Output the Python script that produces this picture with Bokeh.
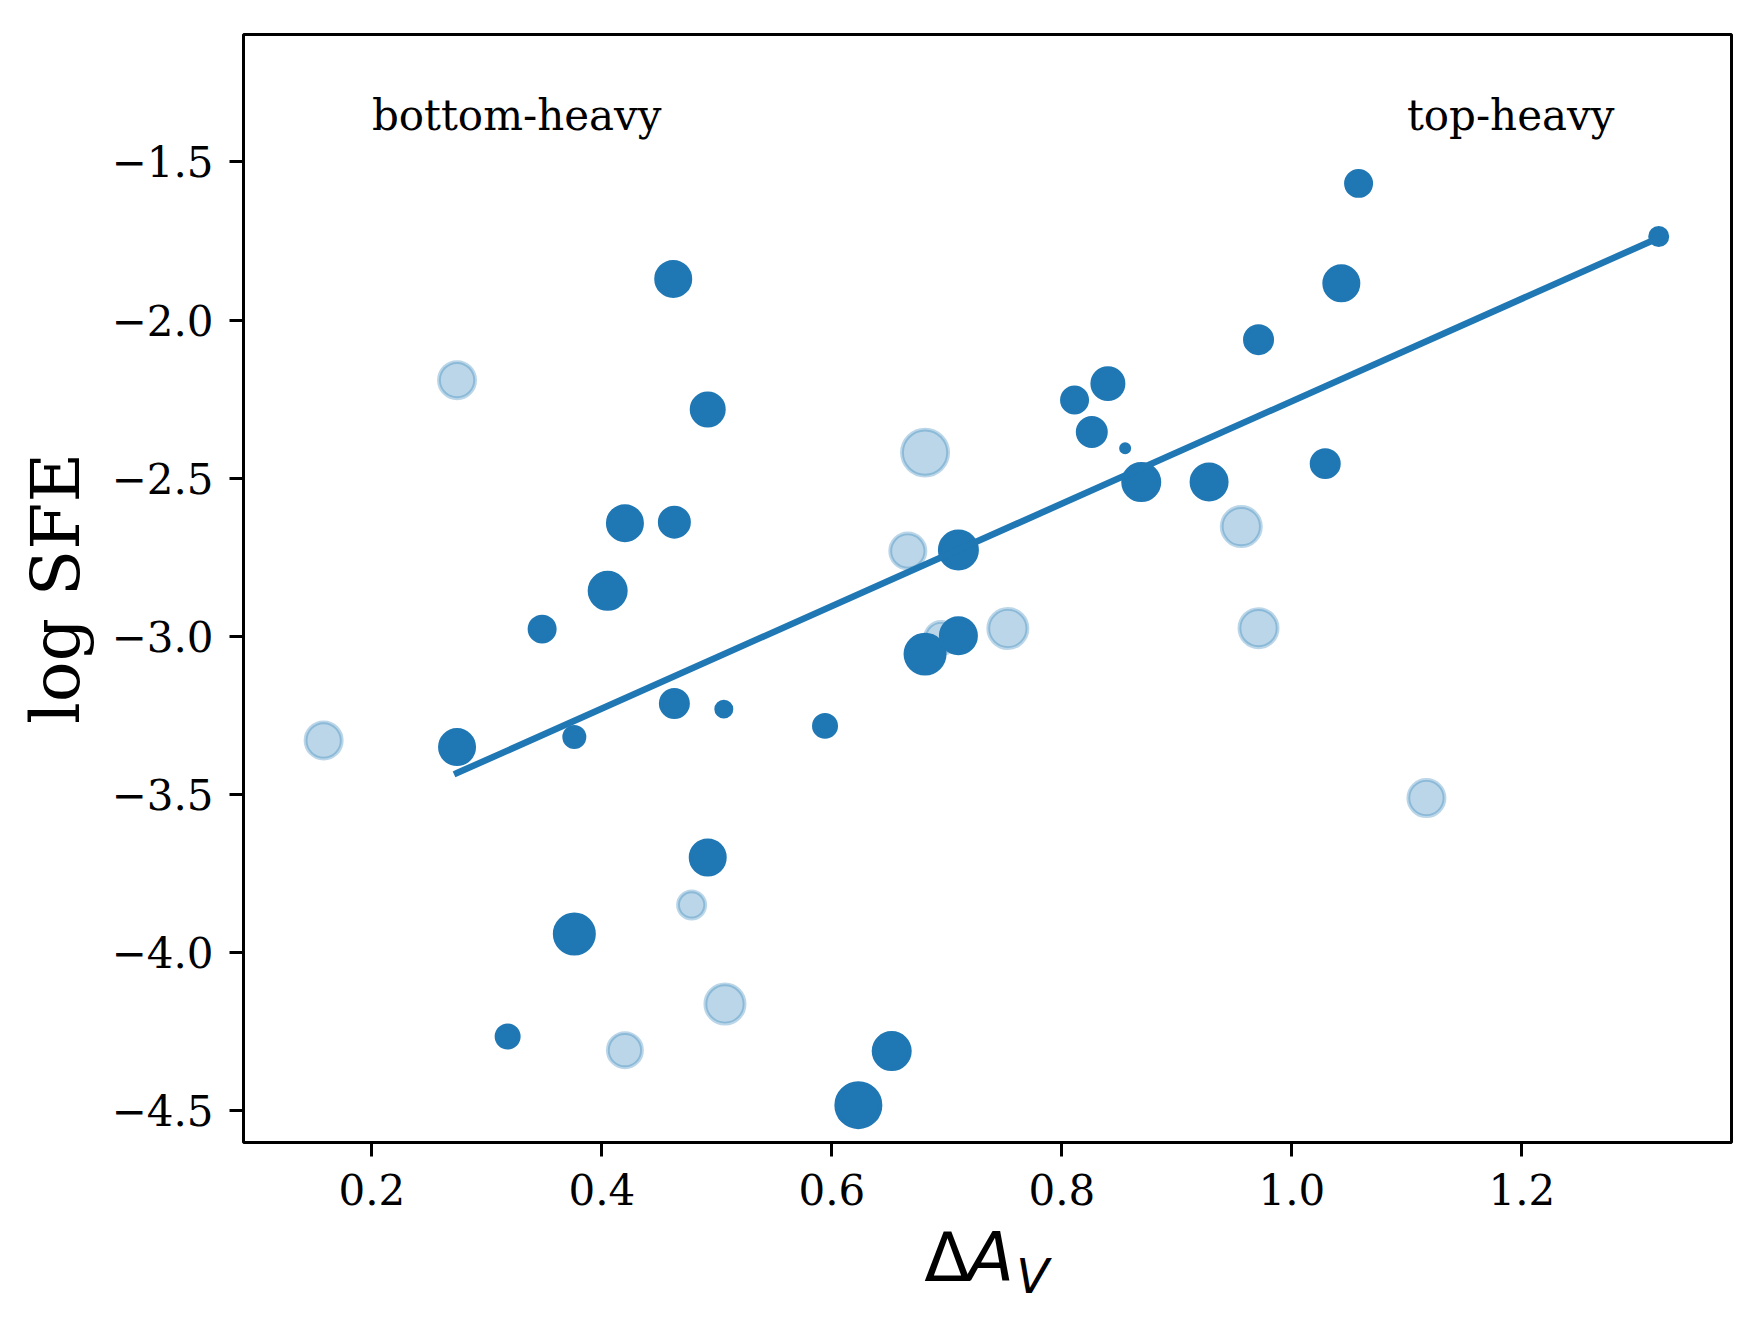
from bokeh.plotting import figure
from bokeh.layouts import column
from bokeh.models import Range1d, FixedTicker, CustomJSTickFormatter, ColumnDataSource
from bokeh.core.properties import value
from bokeh.embed import file_html
from bokeh.resources import INLINE

# ---- data ----
dark_x = [0.462, 0.492, 0.420, 0.463, 0.405, 0.348, 0.463, 0.506, 0.376, 0.274,
          0.594, 0.492, 0.376, 0.318, 0.652, 0.623, 0.681, 0.710, 0.710, 0.811,
          0.840, 0.826, 0.855, 0.869, 0.928, 1.029, 0.971, 1.043, 1.058, 1.319]
dark_y = [-1.870, -2.283, -2.642, -2.639, -2.856, -2.977, -3.212, -3.230, -3.318, -3.350,
          -3.283, -3.699, -3.941, -4.265, -4.311, -4.482, -3.056, -2.998, -2.727, -2.253,
          -2.201, -2.354, -2.405, -2.512, -2.512, -2.454, -2.062, -1.884, -1.568, -1.736]
dark_diam = [38, 36, 38, 33, 40, 29, 31, 19, 24, 38,
             26, 38, 43, 26, 40, 48, 43, 39, 41, 29,
             35, 32, 12, 40, 39, 31, 31, 38, 29, 21]

light_x = [0.274, 0.158, 0.681, 0.666, 0.695, 0.753, 0.956, 0.971, 1.117, 0.478, 0.507, 0.420]
light_y = [-2.190, -3.329, -2.419, -2.730, -3.005, -2.975, -2.653, -2.974, -3.511, -3.849, -4.162, -4.308]
light_diam = [40, 40, 50, 39, 36, 43, 43, 42, 40, 31, 43, 38]

fit_x = [0.274, 1.319]
fit_y = [-3.432, -1.740]

x_ticks = [0.2, 0.4, 0.6, 0.8, 1.0, 1.2]
y_ticks = [-4.5, -4.0, -3.5, -3.0, -2.5, -2.0, -1.5]

ann_x = [0.2, 1.1]
ann_y = [-1.4, -1.4]
ann_text = ["bottom-heavy", "top-heavy"]

y_label = "log SFE"
x_label_parts = ["Δ", "A", "V"]   # rendered as  ΔA_V

# ---- styling ----
BLUE = "#1f77b4"
EDGE = 3.8
SERIF = "DejaVu Serif"
SANS = "DejaVu Sans"

W = 1748
H1 = 1215
H2 = 105
BL, BR = 243, 17

xr = Range1d(0.0883, 1.3823)
p = figure(width=W, height=H1,
           x_range=xr, y_range=Range1d(-4.6, -1.0973),
           output_backend="svg", toolbar_location=None,
           min_border_left=BL, min_border_right=BR,
           min_border_top=34, min_border_bottom=H1 - 34 - 1108)

p.background_fill_color = "white"
p.border_fill_color = "white"
p.grid.visible = False
p.outline_line_color = "black"
p.outline_line_width = 3
p.outline_line_alpha = 1.0

for ax in (p.xaxis[0], p.yaxis[0]):
    ax.axis_line_color = None
    ax.major_tick_out = 14
    ax.major_tick_in = 0
    ax.major_tick_line_width = 3
    ax.major_tick_line_color = "black"
    ax.minor_tick_line_color = None
    ax.major_label_text_font = SERIF
    ax.major_label_text_font_size = "42px"
    ax.major_label_text_color = "black"

p.xaxis.ticker = FixedTicker(ticks=x_ticks)
p.yaxis.ticker = FixedTicker(ticks=y_ticks)
p.xaxis.formatter = CustomJSTickFormatter(code="return tick.toFixed(1).replace('-', '\\u2212');")
p.yaxis.formatter = CustomJSTickFormatter(code="return tick.toFixed(1).replace('-', '\\u2212');")
p.xaxis.major_label_standoff = 17
p.yaxis.major_label_standoff = 16

p.yaxis.axis_label = y_label
p.yaxis.axis_label_text_font = SERIF
p.yaxis.axis_label_text_font_size = "68px"
p.yaxis.axis_label_text_font_style = "normal"
p.yaxis.axis_label_text_color = "black"
p.yaxis.axis_label_standoff = 14

# scatter: light points first, dark on top
light_src = ColumnDataSource(dict(x=light_x, y=light_y, s=[d - EDGE for d in light_diam]))
p.scatter("x", "y", size="s", source=light_src, marker="circle",
          fill_color=BLUE, fill_alpha=0.3, line_color=BLUE, line_alpha=0.3, line_width=EDGE)

dark_src = ColumnDataSource(dict(x=dark_x, y=dark_y, s=[d - EDGE for d in dark_diam]))
p.scatter("x", "y", size="s", source=dark_src, marker="circle",
          fill_color=BLUE, fill_alpha=1.0, line_color=BLUE, line_alpha=1.0, line_width=EDGE)

p.line(fit_x, fit_y, line_color=BLUE, line_width=6.5, line_cap="square")

ann_src = ColumnDataSource(dict(x=ann_x, y=ann_y, t=ann_text))
p.text("x", "y", text="t", source=ann_src, text_font=value(SERIF), text_font_size="42px",
       text_color="black", text_align="left", text_baseline="alphabetic", y_offset=-15)

# ---- x-axis label strip  (ΔA_V, mathtext style) ----
p2 = figure(width=W, height=H2, x_range=xr, y_range=Range1d(0, H2),
            output_backend="svg", toolbar_location=None,
            min_border_left=BL, min_border_right=BR, min_border_top=0, min_border_bottom=0,
            x_axis_location=None, y_axis_location=None)
p2.outline_line_color = None
p2.grid.visible = False
p2.background_fill_color = "white"
p2.border_fill_color = "white"

p2.text([0.6804], [41.7], text=[x_label_parts[0]], text_font=value(SANS), text_font_size="68px",
        text_color="black", text_align="left", text_baseline="alphabetic", y_offset=-21)
p2.text([0.7178], [41.7], text=[x_label_parts[1]], text_font=value(SANS), text_font_size="68px",
        text_font_style="italic", text_color="black", text_align="left",
        text_baseline="alphabetic", y_offset=-21)
p2.text([0.7604], [30.0], text=[x_label_parts[2]], text_font=value(SANS), text_font_size="48px",
        text_font_style="italic", text_color="black", text_align="left",
        text_baseline="alphabetic", y_offset=-15)

layout = column(p, p2, spacing=0)
open("out.html", "w").write(file_html(layout, INLINE))
